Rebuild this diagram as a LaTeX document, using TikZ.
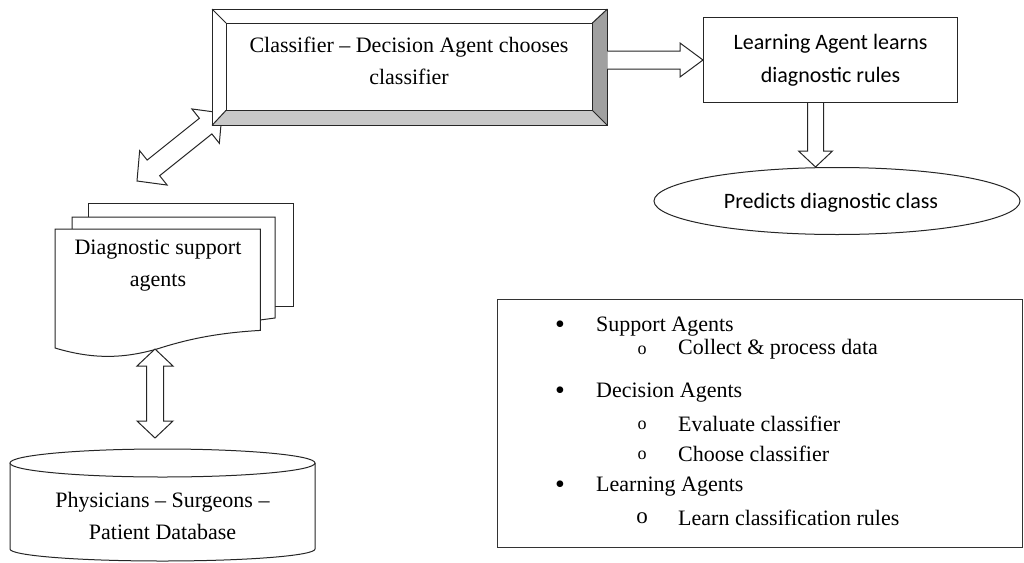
\documentclass[tikz,border=0pt]{standalone}
\usepackage{fontspec}
\setmainfont{Liberation Serif}
\newfontfamily\calib{Carlito}
\usetikzlibrary{calc,shapes.geometric}
\definecolor{bevB}{HTML}{C8C8C8}
\definecolor{bevR}{HTML}{A0A0A0}
\tikzset{
  plainline/.style={draw=black!85, line width=1pt},
  blockarrow/.style={draw=black!85, line width=1pt, fill=white, line join=miter},
  serif/.style={font=\fontsize{22}{32}\selectfont, align=center},
  sans/.style={font=\calib\fontsize{22}{33}\selectfont, align=center},
  item/.style={font=\fontsize{22}{26}\selectfont, anchor=west, inner sep=0pt},
  bul/.style={font=\fontsize{28}{30}\selectfont, anchor=center, inner sep=0pt},
  subbul/.style={font=\fontsize{18}{22}\selectfont, anchor=center, inner sep=0pt},
}
% double block arrow: #1 end A, #2 end B, #3 half shaft, #4 half head, #5 head length
\newcommand\dblarrow[5]{%
  \coordinate (ba1) at ($(#1)!#5!(#2)$);
  \coordinate (ba2) at ($(#2)!#5!(#1)$);
  \draw[blockarrow] (#1) -- ($(ba1)!#4!90:(#2)$) -- ($(ba1)!#3!90:(#2)$)
    -- ($(ba2)!#3!-90:(#1)$) -- ($(ba2)!#4!-90:(#1)$) -- (#2)
    -- ($(ba2)!#4!90:(#1)$) -- ($(ba2)!#3!90:(#1)$)
    -- ($(ba1)!#3!-90:(#2)$) -- ($(ba1)!#4!-90:(#2)$) -- cycle;
}
% single block arrow: #1 base, #2 tip
\newcommand\sglarrow[5]{%
  \coordinate (ba2) at ($(#2)!#5!(#1)$);
  \draw[blockarrow] ($(#1)!#3!90:(#2)$) -- ($(ba2)!#3!-90:(#1)$) -- ($(ba2)!#4!-90:(#1)$)
    -- (#2) -- ($(ba2)!#4!90:(#1)$) -- ($(ba2)!#3!90:(#1)$) -- ($(#1)!#3!-90:(#2)$);
}
\begin{document}
\begin{tikzpicture}[x=1pt,y=-1pt]
\useasboundingbox (0,0) rectangle (1024,562);

% diagonal double arrow (behind the bevel box)
\coordinate (dg1) at (137,181);
\coordinate (dg2) at (222,113);
\dblarrow{dg1}{dg2}{10pt}{22pt}{21pt}

% bevelled classifier box
\node[minimum width=395pt, minimum height=116pt, anchor=north west, inner sep=0pt] (cls) at (212,9) {};
\fill[white] (cls.north west) rectangle (cls.south east);
\coordinate (i1) at ($(cls.north west)+(14,14)$);
\coordinate (i2) at ($(cls.north east)+(-15,14)$);
\coordinate (i3) at ($(cls.south east)+(-15,-15)$);
\coordinate (i4) at ($(cls.south west)+(14,-15)$);
\fill[bevB] (cls.south west) -- (cls.south east) -- (i3) -- (i4) -- cycle;
\fill[bevR] (cls.north east) -- (cls.south east) -- (i3) -- (i2) -- cycle;
\draw[plainline] (cls.north west) rectangle (cls.south east);
\draw[plainline] (i1) rectangle (i3);
\draw[plainline] (cls.north west) -- (i1) (cls.north east) -- (i2)
                 (cls.south east) -- (i3) (cls.south west) -- (i4);
\node[serif] (clstext) at (409,61) {Classifier – Decision Agent chooses\\classifier};

% learning agent box
\node[plainline, fill=white, minimum width=254pt, minimum height=85pt, anchor=north west, sans] (learn) at (703,17) {Learning Agent learns\\diagnostic rules};

% prediction ellipse
\node[ellipse, plainline, fill=white, minimum width=366pt, minimum height=67pt, sans, text depth=0pt] (pred) at (837,201) {\hspace*{-12pt}Predicts diagnostic class};

% arrows on the right
\coordinate (a1s) at (cls.east |- learn.west);
\sglarrow{a1s}{learn.west}{9pt}{17pt}{23pt}
\coordinate (a2s) at ([xshift=-15pt]learn.south);
\coordinate (a2e) at (a2s |- pred.north);
\sglarrow{a2s}{a2e}{8pt}{17pt}{16pt}

% document stack
\draw[plainline, fill=white] (88,203) rectangle (293,306);
\draw[plainline, fill=white] (72,217) -- (275,217) -- (275,318) -- (260,320) -- (72,320) -- cycle;
\node[minimum width=205pt, minimum height=101pt, anchor=north west, inner sep=0pt] (docs) at (55,229) {};
\draw[plainline, fill=white] (docs.north west) -- (docs.north east) -- (docs.south east)
  .. controls (215,333) and (185,340) .. (157,349)
  .. controls (125,358) and (95,360) .. (55,348) -- cycle;
\node[serif] (docstext) at (158,266) {Diagnostic support\\agents};

% database cylinder
\draw[plainline, fill=white] (10,463) -- (10,549)
  arc[start angle=180, end angle=360, x radius=152.5pt, y radius=12pt] -- (315,463);
\draw[plainline, fill=white] (162.5,463) ellipse [x radius=152.5pt, y radius=14pt];
\node[serif] (db) at (162.5,516) {Physicians – Surgeons –\\Patient Database};

% vertical double arrow
\coordinate (v1) at (155,349);
\coordinate (v2) at (155,438);
\dblarrow{v1}{v2}{8.5pt}{18pt}{17pt}

% legend
\node[draw=black!80, line width=1.4pt, minimum width=525pt, minimum height=248pt, anchor=north west] (legend) at (497,299) {};
\node[bul] (b1) at (560,327) {•};
\node[item] (t1) at (596,327) {Support Agents};
\node[subbul] (s1) at (642,350) {o};
\node[item] (u1) at (678,349) {Collect \& process data};
\node[bul] (b2) at (560,393) {•};
\node[item] (t2) at (596,393) {Decision Agents};
\node[subbul] (s2) at (642,425) {o};
\node[item] (u2) at (678,424) {Evaluate classifier};
\node[subbul] (s3) at (642,455) {o};
\node[item] (u3) at (678,454) {Choose classifier};
\node[bul] (b3) at (560,487) {•};
\node[item] (t3) at (596,487) {Learning Agents};
\node[subbul, font=\fontsize{23}{26}\selectfont] (s4) at (642,518) {o};
\node[item] (u4) at (678,518) {Learn classification rules};
\end{tikzpicture}
\end{document}
